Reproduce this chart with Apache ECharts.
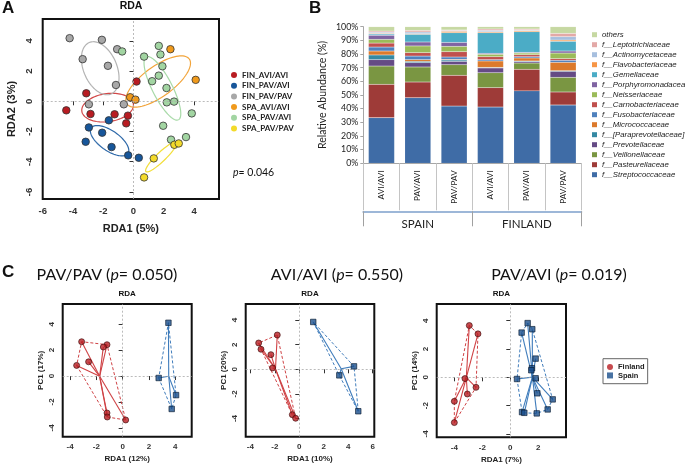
<!DOCTYPE html>
<html><head><meta charset="utf-8">
<script src="https://cdn.jsdelivr.net/npm/echarts@6/dist/echarts.min.js"></script>
<style>html,body{margin:0;padding:0;background:#fff}#c{width:685px;height:465px}</style>
</head><body><div id="c"></div>
<script>
// ---------- Panel A data (RDA1, RDA2) ----------
const groupNamesA = ['FIN_AVI/AVI','FIN_PAV/AVI','FIN_PAV/PAV','SPA_AVI/AVI','SPA_PAV/AVI','SPA_PAV/PAV'];
const finAviAvi = [[-3.12,0.53],[-4.44,-0.6],[-2.84,-0.84],[-1.25,-0.86],[-0.37,-0.95],[-0.48,-1.46],[0.2,1.31]];
const finPavAvi = [[-1.63,-1.26],[-2.95,-1.73],[-2.07,-2.08],[-3.16,-2.68],[-1.45,-3.03],[-0.35,-3.58],[0.35,-3.74]];
const finPavPav = [[-4.22,4.18],[-2.09,4.07],[-3.36,2.79],[-1.08,3.45],[-1.69,2.35],[-1.16,1.08],[-2.95,-0.2],[-0.64,-0.2]];
const spaAviAvi = [[2.44,3.45],[-0.22,0.27],[0.13,0.11],[4.11,1.42]];
const spaPavAvi = [[1.67,3.67],[0.7,2.96],[1.78,3.1],[1.91,2.32],[1.67,1.7],[1.23,1.33],[2.18,0.88],[2.2,-0.07],[2.68,-0.02],[3.85,-0.8],[1.96,-1.62],[2.48,-2.54],[3.47,-2.37],[-0.75,3.3]];
const spaPavPav = [[2.7,-2.88],[2.99,-2.79],[1.34,-3.78],[0.7,-5.04]];
// ellipses: [centerX, centerY, semiMajor, semiMinor, angleDeg]
const ellFinAviAvi = [-1.71,-0.42,1.72,0.93,8];
const ellFinPavAvi = [-1.58,-2.61,1.48,0.66,-35];
const ellFinPavPav = [-2.2,2.19,1.85,1.1,-67];
const ellSpaAviAvi = [1.63,1.31,2.54,1.0,36];
const ellSpaPavAvi = [1.91,0.86,2.34,0.66,-63];
const ellSpaPavPav = [1.82,-3.69,1.39,0.3,44];
const ticksA = [-6,-4,-2,0,2,4];

// ---------- Panel B data (% relative abundance) ----------
const barCategories = ['AVI/AVI','PAV/AVI','PAV/PAV','AVI/AVI','PAV/AVI','PAV/PAV'];
const countries = ['SPAIN','FINLAND'];
const familyNames = ['f__Streptococcaceae','f__Pasteurellaceae','f__Veillonellaceae','f__Prevotellaceae','f__[Paraprevotellaceae]','f__Micrococcaceae','f__Fusobacteriaceae','f__Carnobacteriaceae','f__Neisseriaceae','f__Porphyromonadaceae','f__Gemellaceae','f__Flavobacteriaceae','f__Actinomycetaceae','f__Leptotrichiaceae','others'];
const strep  = [33.4,48.0,41.9,41.2,53.0,42.7];
const past   = [24.4,11.5,22.5,14.2,15.8,9.5];
const veil   = [13.4,11.0,7.8,10.9,4.6,10.7];
const prev   = [4.7,3.2,2.4,3.5,1.0,4.4];
const parap  = [3.4,0.9,1.0,0.4,0.5,0.5];
const micro  = [2.9,1.3,0.5,4.7,2.2,6.1];
const fuso   = [2.9,2.6,1.7,1.0,0.9,1.5];
const carno  = [2.9,2.5,3.9,2.1,1.5,1.2];
const neiss  = [2.7,4.9,3.9,1.8,1.2,4.1];
const porph  = [3.0,2.9,2.9,0.7,0.5,1.5];
const gem    = [0.9,5.6,7.1,15.1,15.1,7.1];
const flavo  = [0.5,0.5,1.0,0.7,0.8,0.9];
const actino = [0.8,1.2,0.5,1.0,0.5,2.5];
const lepto  = [0.9,1.2,0.5,1.0,0.7,2.4];
const others = [3.2,2.7,2.4,1.7,1.7,4.9];
const familyValues = [strep,past,veil,prev,parap,micro,fuso,carno,neiss,porph,gem,flavo,actino,lepto,others];

// ---------- Panel C data ----------
const c1Finland = [[-3.12,2.65],[-1.19,2.42],[-1.47,2.24],[-2.59,1.1],[-3.5,0.82],[-1.19,-2.85],[-1.17,-3.16],[0.23,-3.39]];
const c1Spain   = [[3.48,4.11],[2.74,-0.15],[4.06,-1.47],[3.73,-2.54]];
const c2Finland = [[-3.32,2.14],[-1.8,2.79],[-3.13,1.63],[-2.32,1.19],[-2.18,0.11],[-0.57,-3.69],[-0.3,-3.98]];
const c2Spain   = [[1.14,3.85],[4.47,0.24],[3.27,-0.49],[4.82,-3.41]];
const c3Finland = [[-2.93,3.66],[-2.31,3.07],[-3.24,-0.09],[-2.45,-0.71],[-3.07,-1.18],[-4.0,-1.7],[-4.0,-3.2]];
const c3Spain   = [[1.24,3.83],[1.57,3.4],[0.81,3.16],[1.81,1.32],[1.55,0.64],[1.5,0.5],[1.81,-0.07],[0.48,-0.12],[1.93,-1.13],[3.03,-1.56],[2.67,-2.27],[0.84,-2.46],[1.0,-2.51],[1.89,-2.55]];
const cHeadings = [['PAV/PAV','0.050'],['AVI/AVI','0.550'],['PAV/AVI','0.019']];
const cXNames = ['RDA1 (12%)','RDA1 (10%)','RDA1 (7%)'];
const cYNames = ['PC1 (17%)','PC1 (20%)','PC1 (14%)'];
const cXTicks = [[-4,-2,0,2,4],[-4,-2,0,2,4,6],[-4,-2,0,2]];
const cYTicks = [[-4,-2,0,2,4],[-4,-2,0,2,4],[-4,-2,0,2,4]];

// ---------- styling ----------
const RF = 'Liberation Sans';
const XF = 'Lato';
const colA = ['#b81c22','#17569a','#a8a8a8','#f09a1c','#a2d5a2','#f3da2a'];
const ellColA = ['#d24848','#2d68a8','#b4b4b4','#f2a43a','#a8daa8','#f2de3a'];
const colB = ['#3f6ca6','#9e3b38','#7a9642','#654b85','#3589a3','#dc7a2c','#4f81bd','#c0504d','#9bbb59','#8064a2','#4bacc6','#f79646','#a7bfde','#e3a9a7','#c6d8a2'];
const finCol = '#b81d22', spaCol = '#1a4f8c', finLine = '#cf4245', spaLine = '#3f7cbb';

const gridsC = [
  {left:62.7, top:304, width:129, height:132.7},
  {left:245.7, top:304, width:128.6, height:132.7},
  {left:436.7, top:304, width:129.3, height:133.3}
];
const rangesC = [
  {x:[-4.56,5.25], y:[-4.68,5.56]},
  {x:[-4.38,6.13], y:[-5.48,5.31]},
  {x:[-5.26,3.98], y:[-4.24,5.18]}
];

function boxGrid(g){ return Object.assign({show:true, borderColor:'#111', borderWidth:2, backgroundColor:'transparent', containLabel:false, outerBoundsMode:'none'}, g); }

function valAxis(gi, min, max, ticks, isY, name, nameGap, labelSize, nameSize, margin){
  return {
    type:'value', gridIndex:gi, min:min, max:max, name:name, nameLocation:'middle', nameGap:nameGap,
    nameTextStyle:{fontFamily:RF, fontWeight:'bold', fontSize:nameSize, color:'#222'},
    axisLine:{show:false}, splitLine:{show:false},
    axisTick:{show:true, inside:false, length:4, customValues:ticks, lineStyle:{color:'#333', width:1}},
    axisLabel:{customValues:ticks, rotate:isY?90:0, margin:margin, fontSize:labelSize, fontWeight:'bold', color:'#333', fontFamily:RF}
  };
}

function ellipseRender(color){
  return function(params, api){
    const cx=api.value(0), cy=api.value(1), a=api.value(2), b=api.value(3), ang=api.value(4)*Math.PI/180;
    const pts=[];
    for(let k=0;k<=90;k++){
      const t=k/90*2*Math.PI, ex=a*Math.cos(t), ey=b*Math.sin(t);
      pts.push(api.coord([cx+ex*Math.cos(ang)-ey*Math.sin(ang), cy+ex*Math.sin(ang)+ey*Math.cos(ang)]));
    }
    return {type:'polyline', shape:{points:pts}, style:{stroke:color, fill:null, lineWidth:1.2}};
  };
}
function centroid(pts){ let sx=0,sy=0; pts.forEach(p=>{sx+=p[0];sy+=p[1];}); return [sx/pts.length, sy/pts.length]; }
function hull(pts){
  const p = pts.slice().sort((a,b)=>a[0]-b[0]||a[1]-b[1]);
  const cross=(o,a,b)=>(a[0]-o[0])*(b[1]-o[1])-(a[1]-o[1])*(b[0]-o[0]);
  const lo=[],up=[];
  for(const q of p){ while(lo.length>=2&&cross(lo[lo.length-2],lo[lo.length-1],q)<=0) lo.pop(); lo.push(q); }
  for(let i=p.length-1;i>=0;i--){ const q=p[i]; while(up.length>=2&&cross(up[up.length-2],up[up.length-1],q)<=0) up.pop(); up.push(q); }
  up.pop(); lo.pop();
  const h=lo.concat(up); h.push(h[0]); return h;
}
function spiderRender(color){
  return function(params, api){
    const p=api.coord([api.value(0),api.value(1)]), c=api.coord([api.value(2),api.value(3)]);
    return {type:'line', shape:{x1:c[0],y1:c[1],x2:p[0],y2:p[1]}, style:{stroke:color, lineWidth:1.1}};
  };
}
const zeroLines = {silent:true, symbol:'none', label:{show:false}, animation:false,
  lineStyle:{color:'#aaa', type:[2,2], width:0.8}, data:[{xAxis:0},{yAxis:0}]};

// ---------- axes ----------
const xAxes = [], yAxes = [];
xAxes.push(valAxis(0,-6,5.65,ticksA,false,'RDA1 (5%)',24,9.5,11,7));
yAxes.push(valAxis(0,-6.47,5.45,ticksA,true,'RDA2 (3%)',25,9.5,11,8));
// Panel B
xAxes.push({type:'category', gridIndex:1, data:barCategories, position:'bottom',
  axisLine:{show:true, lineStyle:{color:'#a6a6a6', width:1}},
  axisTick:{show:true, interval:0, length:47, lineStyle:{color:'#c4c4c4'}},
  axisLabel:{interval:0, rotate:90, margin:7, fontSize:8.2, color:'#222', fontFamily:XF}});
xAxes.push({type:'category', gridIndex:1, data:countries, position:'bottom', offset:48,
  axisLine:{show:true, lineStyle:{color:'#9db7d8', width:2}},
  axisTick:{show:true, interval:0, length:15, lineStyle:{color:'#a0a0a0'}},
  axisLabel:{interval:0, margin:7, fontSize:11.5, color:'#222', fontFamily:XF}});
yAxes.push({type:'value', gridIndex:1, min:0, max:100, interval:10, name:'Relative Abundance (%)', nameLocation:'middle', nameGap:35,
  nameTextStyle:{fontFamily:XF, fontSize:10.5, color:'#222'},
  axisLine:{show:true, lineStyle:{color:'#a6a6a6'}}, splitLine:{show:false},
  axisTick:{show:true, length:3, lineStyle:{color:'#a6a6a6'}},
  axisLabel:{formatter:'{value}%', fontSize:8.8, color:'#222', fontFamily:XF, margin:5}});
// Panel C
for(let i=0;i<3;i++){
  xAxes.push(valAxis(2+i, rangesC[i].x[0], rangesC[i].x[1], cXTicks[i], false, cXNames[i], 18, 8, 8, 6));
  yAxes.push(valAxis(2+i, rangesC[i].y[0], rangesC[i].y[1], cYTicks[i], true, cYNames[i], 18, 8, 8, 7));
}

// ---------- series ----------
const series = [];
const groupsA = [finAviAvi,finPavAvi,finPavPav,spaAviAvi,spaPavAvi,spaPavPav];
const ellA = [ellFinAviAvi,ellFinPavAvi,ellFinPavPav,ellSpaAviAvi,ellSpaPavAvi,ellSpaPavPav];
groupsA.forEach((g,i)=>{
  series.push({type:'custom', name:groupNamesA[i]+' ellipse', xAxisIndex:0, yAxisIndex:0, renderItem:ellipseRender(ellColA[i]),
    data:[ellA[i]], encode:{x:0,y:1}, z:2, silent:true, clip:false});
});
groupsA.forEach((g,i)=>{
  const s = {type:'scatter', name:groupNamesA[i], xAxisIndex:0, yAxisIndex:0, data:g, symbol:'circle', symbolSize:7.5,
    itemStyle:{color:colA[i], borderColor:'#333', borderWidth:0.8, opacity:1}, z:4};
  if(i===0) s.markLine = zeroLines;
  series.push(s);
});
familyNames.forEach((n,i)=>{
  series.push({type:'bar', name:n, stack:'total', xAxisIndex:1, yAxisIndex:1, data:familyValues[i], barWidth:26,
    itemStyle:{color:colB[i], borderColor:'rgba(255,255,255,0.25)', borderWidth:0.4}});
});
const cData = [[c1Finland,c1Spain],[c2Finland,c2Spain],[c3Finland,c3Spain]];
cData.forEach((pair,i)=>{
  const xi = 3+i, yi = 2+i;
  [[pair[0],finLine],[pair[1],spaLine]].forEach(([pts,lc],k)=>{
    const c = centroid(pts);
    series.push({type:'line', name:(k?'Spain':'Finland')+' hull '+i, xAxisIndex:xi, yAxisIndex:yi, data:hull(pts), symbol:'none',
      lineStyle:{color:lc, type:[3,2], width:1}, z:2, silent:true,
      markLine: k===0 ? zeroLines : undefined});
    series.push({type:'custom', name:(k?'Spain':'Finland')+' spider '+i, xAxisIndex:xi, yAxisIndex:yi, renderItem:spiderRender(lc),
      data:pts.map(p=>[p[0],p[1],c[0],c[1]]), encode:{x:0,y:1}, z:3, silent:true});
  });
  series.push({type:'scatter', name:'Finland', xAxisIndex:xi, yAxisIndex:yi, data:pair[0], symbol:'circle', symbolSize:6,
    itemStyle:{color:finCol, borderColor:'#3a0a0a', borderWidth:0.8}, z:5});
  series.push({type:'scatter', name:'Spain', xAxisIndex:xi, yAxisIndex:yi, data:pair[1], symbol:'rect', symbolSize:5.5,
    itemStyle:{color:spaCol, borderColor:'#0a1a30', borderWidth:0.8}, z:5});
});

// ---------- titles ----------
const tStyle = (size, fam, weight) => ({fontSize:size, fontFamily:fam, fontWeight:weight||'bold', color:'#111'});
const titles = [
  {text:'A', left:2, top:0, textStyle:tStyle(17,RF)},
  {text:'B', left:309, top:0, textStyle:tStyle(17,RF)},
  {text:'C', left:2, top:264, textStyle:tStyle(17,RF)},
  {text:'RDA', left:131, top:1, textAlign:'center', textStyle:tStyle(10.5,RF)},
  {text:'{i|p}{n|= 0.046}', left:233, top:167, textStyle:{fontWeight:'normal', rich:{
    i:{fontFamily:XF, fontStyle:'italic', fontWeight:'normal', fontSize:10.5, color:'#111'},
    n:{fontFamily:XF, fontWeight:'normal', fontSize:10.5, color:'#111'}}}}
];
gridsC.forEach((g,i)=>{
  titles.push({text:'RDA', left:g.left+g.width/2, top:290, textAlign:'center', textStyle:tStyle(8,RF)});
  titles.push({text:'{n|'+cHeadings[i][0]+' (}{i|p}{n|= '+cHeadings[i][1]+')}', left:[107,337,559][i], top:267, textAlign:'center',
    textStyle:{fontWeight:'normal', rich:{
      n:{fontFamily:XF, fontSize:16, fontWeight:'normal', color:'#111'},
      i:{fontFamily:XF, fontSize:16, fontStyle:'italic', fontWeight:'normal', color:'#111'}}}});
});
titles.forEach(t=>{t.padding=0; t.itemGap=0;});

// ---------- legends ----------
const legendBData = familyNames.slice().reverse();
const legends = [
  {data:groupNamesA, orient:'vertical', left:231, top:70, padding:0, itemGap:0.7, itemWidth:6, itemHeight:6, icon:'circle',
    itemStyle:{borderWidth:0}, selectedMode:false,
    textStyle:{fontSize:8, fontWeight:'bold', fontFamily:XF, color:'#222', lineHeight:10}},
  {data:legendBData, orient:'vertical', left:592, top:29.7, padding:0, itemGap:0, itemWidth:5, itemHeight:5, icon:'rect',
    itemStyle:{borderWidth:0}, selectedMode:false,
    textStyle:{fontSize:7.8, fontStyle:'italic', fontFamily:RF, color:'#222', lineHeight:10}},
  {data:[{name:'Finland', icon:'circle'},{name:'Spain', icon:'rect'}], orient:'vertical', left:603, top:358.7,
    padding:[4,3,4,4], itemGap:0, itemWidth:6, itemHeight:6, borderColor:'#666', borderWidth:1, selectedMode:false,
    itemStyle:{borderWidth:0},
    textStyle:{fontSize:7.5, fontWeight:'bold', fontFamily:RF, color:'#222', lineHeight:8.5}}
];

const option = {
  animation:false,
  backgroundColor:'#fff',
  title:titles,
  legend:legends,
  grid:[
    boxGrid({left:42.7, top:19, width:176.3, height:180}),
    {left:363.3, top:26.7, width:218, height:136.6, show:false, containLabel:false, outerBoundsMode:'none'},
    boxGrid(gridsC[0]), boxGrid(gridsC[1]), boxGrid(gridsC[2])
  ],
  xAxis:xAxes,
  yAxis:yAxes,
  series:series
};
const chart = echarts.init(document.getElementById('c'));
chart.setOption(option);
</script>
</body></html>
